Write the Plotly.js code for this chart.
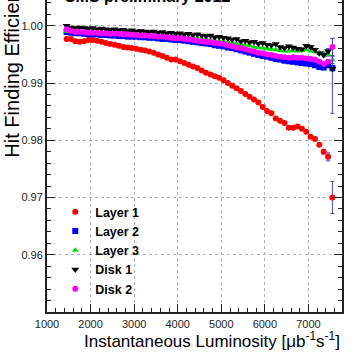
<!DOCTYPE html>
<html>
<head>
<meta charset="utf-8">
<script src="https://cdn.plot.ly/plotly-3.0.1.min.js"></script>
<style>
  html, body { margin: 0; padding: 0; background: #fff; }
  #chartDiv { width: 354px; height: 354px; }
</style>
</head>
<body>
<div id="chartDiv"></div>
<script>
// Luminosity bin centres [ub^-1 s^-1]
const lum = [1450, 1550, 1650, 1750, 1850, 1950, 2050, 2150, 2250, 2350,
  2450, 2550, 2650, 2750, 2850, 2950, 3050, 3150, 3250, 3350,
  3450, 3550, 3650, 3750, 3850, 3950, 4050, 4150, 4250, 4350,
  4450, 4550, 4650, 4750, 4850, 4950, 5050, 5150, 5250, 5350,
  5450, 5550, 5650, 5750, 5850, 5950, 6050, 6150, 6250, 6350,
  6450, 6550, 6650, 6750, 6850, 6950, 7050, 7150, 7250, 7350,
  7450, 7550];

// Hit finding efficiency per layer / disk
const layer1 = [0.9977, 0.9977, 0.9973, 0.9972, 0.9973, 0.9975, 0.9975, 0.9974, 0.9972, 0.9970,
  0.9968, 0.9967, 0.9965, 0.9963, 0.9962, 0.9961, 0.9960, 0.9958, 0.9957, 0.9955,
  0.9953, 0.9950, 0.9947, 0.9944, 0.9941, 0.9941, 0.9938, 0.9935, 0.9932, 0.9929,
  0.9926, 0.9922, 0.9918, 0.9915, 0.9912, 0.9909, 0.9905, 0.9900, 0.9895, 0.9891,
  0.9886, 0.9881, 0.9876, 0.9871, 0.9866, 0.9858, 0.9851, 0.9847, 0.9838, 0.9834,
  0.9830, 0.9822, 0.9822, 0.9824, 0.9820, 0.9815, 0.9806, 0.9802, 0.9792, 0.9780,
  0.9771, 0.9700];
const layer2 = [0.9989, 0.9988, 0.9987, 0.9987, 0.9986, 0.9985, 0.9985, 0.9985, 0.9984, 0.9984,
  0.9983, 0.9983, 0.9982, 0.9982, 0.9981, 0.9981, 0.9981, 0.9980, 0.9980, 0.9979,
  0.9979, 0.9978, 0.9977, 0.9977, 0.9976, 0.9975, 0.9975, 0.9974, 0.9973, 0.9972,
  0.9971, 0.9970, 0.9969, 0.9968, 0.9966, 0.9965, 0.9964, 0.9962, 0.9961, 0.9959,
  0.9957, 0.9955, 0.9953, 0.9951, 0.9949, 0.9947, 0.9946, 0.9944, 0.9942, 0.9941,
  0.9939, 0.9938, 0.9937, 0.9936, 0.9935, 0.9934, 0.9933, 0.9931, 0.9928, 0.9927,
  0.9931, 0.9926];
const layer3 = [0.9990, 0.9990, 0.9990, 0.9990, 0.9990, 0.9989, 0.9989, 0.9989, 0.9989, 0.9988,
  0.9988, 0.9988, 0.9987, 0.9987, 0.9987, 0.9986, 0.9986, 0.9986, 0.9985, 0.9985,
  0.9984, 0.9984, 0.9983, 0.9983, 0.9982, 0.9982, 0.9981, 0.9980, 0.9980, 0.9979,
  0.9978, 0.9977, 0.9976, 0.9975, 0.9974, 0.9973, 0.9972, 0.9971, 0.9970, 0.9969,
  0.9967, 0.9966, 0.9965, 0.9963, 0.9962, 0.9961, 0.9960, 0.9959, 0.9958, 0.9957,
  0.9956, 0.9956, 0.9957, 0.9956, 0.9957, 0.9958, 0.9956, 0.9955, 0.9953, 0.9952,
  0.9950, 0.9940];
const disk1 = [1.0000, 0.9997, 0.9996, 0.9997, 0.9996, 0.9995, 0.9996, 0.9994, 0.9995, 0.9994,
  0.9993, 0.9994, 0.9992, 0.9993, 0.9991, 0.9992, 0.9990, 0.9991, 0.9990, 0.9989,
  0.9990, 0.9988, 0.9989, 0.9987, 0.9988, 0.9986, 0.9987, 0.9985, 0.9986, 0.9984,
  0.9985, 0.9983, 0.9982, 0.9983, 0.9980, 0.9981, 0.9979, 0.9978, 0.9976, 0.9977,
  0.9973, 0.9974, 0.9971, 0.9972, 0.9969, 0.9970, 0.9967, 0.9966, 0.9968, 0.9963,
  0.9961, 0.9964, 0.9962, 0.9960, 0.9959, 0.9965, 0.9963, 0.9958, 0.9952, 0.9949,
  0.9956, 0.9925];
const disk2 = [0.9994, 0.9991, 0.9989, 0.9989, 0.9989, 0.9988, 0.9988, 0.9988, 0.9987, 0.9987,
  0.9986, 0.9986, 0.9986, 0.9985, 0.9985, 0.9984, 0.9984, 0.9983, 0.9983, 0.9982,
  0.9982, 0.9981, 0.9981, 0.9980, 0.9979, 0.9978, 0.9978, 0.9977, 0.9976, 0.9975,
  0.9974, 0.9973, 0.9972, 0.9971, 0.9970, 0.9969, 0.9968, 0.9966, 0.9964, 0.9962,
  0.9961, 0.9959, 0.9957, 0.9955, 0.9953, 0.9952, 0.9950, 0.9949, 0.9947, 0.9946,
  0.9945, 0.9944, 0.9945, 0.9944, 0.9944, 0.9943, 0.9942, 0.9941, 0.9937, 0.9933,
  0.9937, 0.9963];

// Statistical errors (mostly hidden under the markers)
const layer1Err = [0.0001, 0.0001, 0.0001, 0.0001, 0.0001, 0.0001, 0.0001, 0.0001, 0.0001, 0.0001,
  0.0001, 0.0001, 0.0001, 0.0001, 0.0001, 0.0001, 0.0001, 0.0001, 0.0001, 0.0001,
  0.0001, 0.0001, 0.0001, 0.0001, 0.0001, 0.0001, 0.0001, 0.0001, 0.0001, 0.0001,
  0.0001, 0.0001, 0.0001, 0.0001, 0.0001, 0.0001, 0.0001, 0.0001, 0.0001, 0.0001,
  0.0002, 0.0002, 0.0002, 0.0002, 0.0002, 0.0002, 0.0002, 0.0002, 0.0002, 0.0002,
  0.0002, 0.0002, 0.0002, 0.0002, 0.0002, 0.0002, 0.0002, 0.0002, 0.0003, 0.0004,
  0.0007, 0.0028];
const layer2Err = [0.0001, 0.0001, 0.0001, 0.0001, 0.0001, 0.0001, 0.0001, 0.0001, 0.0001, 0.0001,
  0.0001, 0.0001, 0.0001, 0.0001, 0.0001, 0.0001, 0.0001, 0.0001, 0.0001, 0.0001,
  0.0001, 0.0001, 0.0001, 0.0001, 0.0001, 0.0001, 0.0001, 0.0001, 0.0001, 0.0001,
  0.0001, 0.0001, 0.0001, 0.0001, 0.0001, 0.0001, 0.0001, 0.0001, 0.0001, 0.0001,
  0.0001, 0.0001, 0.0001, 0.0001, 0.0001, 0.0001, 0.0001, 0.0001, 0.0001, 0.0001,
  0.0001, 0.0001, 0.0001, 0.0001, 0.0001, 0.0001, 0.0001, 0.0001, 0.0002, 0.0002,
  0.0004, 0.0005];
const layer3Err = [0.0001, 0.0001, 0.0001, 0.0001, 0.0001, 0.0001, 0.0001, 0.0001, 0.0001, 0.0001,
  0.0001, 0.0001, 0.0001, 0.0001, 0.0001, 0.0001, 0.0001, 0.0001, 0.0001, 0.0001,
  0.0001, 0.0001, 0.0001, 0.0001, 0.0001, 0.0001, 0.0001, 0.0001, 0.0001, 0.0001,
  0.0001, 0.0001, 0.0001, 0.0001, 0.0001, 0.0001, 0.0001, 0.0001, 0.0001, 0.0001,
  0.0001, 0.0001, 0.0001, 0.0001, 0.0001, 0.0001, 0.0001, 0.0001, 0.0001, 0.0001,
  0.0001, 0.0001, 0.0001, 0.0001, 0.0001, 0.0001, 0.0001, 0.0002, 0.0002, 0.0002,
  0.0003, 0.0006];
const disk1ErrUp = [0.0001, 0.0001, 0.0001, 0.0001, 0.0001, 0.0001, 0.0001, 0.0001, 0.0001, 0.0001,
  0.0001, 0.0001, 0.0001, 0.0001, 0.0001, 0.0001, 0.0001, 0.0001, 0.0001, 0.0001,
  0.0001, 0.0001, 0.0001, 0.0001, 0.0001, 0.0001, 0.0001, 0.0001, 0.0001, 0.0001,
  0.0001, 0.0001, 0.0001, 0.0001, 0.0001, 0.0001, 0.0001, 0.0001, 0.0001, 0.0001,
  0.0001, 0.0001, 0.0001, 0.0001, 0.0001, 0.0001, 0.0001, 0.0001, 0.0001, 0.0001,
  0.0001, 0.0001, 0.0002, 0.0002, 0.0002, 0.0002, 0.0002, 0.0002, 0.0002, 0.0003,
  0.0004, 0.0053];
const disk1ErrDown = [0.0001, 0.0001, 0.0001, 0.0001, 0.0001, 0.0001, 0.0001, 0.0001, 0.0001, 0.0001,
  0.0001, 0.0001, 0.0001, 0.0001, 0.0001, 0.0001, 0.0001, 0.0001, 0.0001, 0.0001,
  0.0001, 0.0001, 0.0001, 0.0001, 0.0001, 0.0001, 0.0001, 0.0001, 0.0001, 0.0001,
  0.0001, 0.0001, 0.0001, 0.0001, 0.0001, 0.0001, 0.0001, 0.0001, 0.0001, 0.0001,
  0.0001, 0.0001, 0.0001, 0.0001, 0.0001, 0.0001, 0.0001, 0.0001, 0.0001, 0.0001,
  0.0001, 0.0001, 0.0002, 0.0002, 0.0002, 0.0002, 0.0002, 0.0002, 0.0002, 0.0003,
  0.0004, 0.0078];
const disk2Err = [0.0001, 0.0001, 0.0001, 0.0001, 0.0001, 0.0001, 0.0001, 0.0001, 0.0001, 0.0001,
  0.0001, 0.0001, 0.0001, 0.0001, 0.0001, 0.0001, 0.0001, 0.0001, 0.0001, 0.0001,
  0.0001, 0.0001, 0.0001, 0.0001, 0.0001, 0.0001, 0.0001, 0.0001, 0.0001, 0.0001,
  0.0001, 0.0001, 0.0001, 0.0001, 0.0001, 0.0001, 0.0001, 0.0001, 0.0001, 0.0001,
  0.0001, 0.0001, 0.0001, 0.0001, 0.0001, 0.0001, 0.0001, 0.0001, 0.0001, 0.0001,
  0.0001, 0.0001, 0.0001, 0.0001, 0.0001, 0.0001, 0.0002, 0.0002, 0.0002, 0.0002,
  0.0003, 0.0015];

const yTicks = [0.96, 0.97, 0.98, 0.99, 1.00];
const yTickText = ['0.96', '0.97', '0.98', '0.99', '1.00'];

const FONT = 'Liberation Sans, Arial, Helvetica, sans-serif';
const errColor = '#4a4ac4';

function series(name, y, color, symbol, size, err) {
  return {
    x: lum,
    y: y,
    name: name,
    type: 'scatter',
    mode: 'markers',
    marker: { color: color, symbol: symbol, size: size, line: { width: 0 } },
    error_y: Object.assign({ type: 'data', visible: true, color: errColor, thickness: 1, width: 2 }, err)
  };
}

const traces = [
  series('Layer 1', layer1, '#ff0000', 'circle', 6, { array: layer1Err }),
  series('Layer 2', layer2, '#0000ff', 'square', 6, { array: layer2Err }),
  series('Layer 3', layer3, '#00e000', 'triangle-up', 6, { array: layer3Err }),
  series('Disk 1', disk1, '#000000', 'triangle-down', 7, { symmetric: false, array: disk1ErrUp, arrayminus: disk1ErrDown }),
  series('Disk 2', disk2, '#ff00ff', 'circle', 6, { array: disk2Err })
];

const axisCommon = {
  showline: true,
  linecolor: '#222',
  linewidth: 2,
  ticks: 'inside',
  ticklen: 8,
  tickwidth: 1,
  tickcolor: '#222',
  showgrid: true,
  gridcolor: '#b0b0b0',
  griddash: 'dot',
  gridwidth: 1,
  zeroline: false,
  tickfont: { family: FONT, size: 11, color: '#222' }
};

const layout = {
  width: 354,
  height: 354,
  margin: { l: 47, r: 12, t: 0, b: 42 },
  paper_bgcolor: '#fff',
  plot_bgcolor: '#fff',
  showlegend: true,
  legend: {
    x: 0.028, y: 0.368, xanchor: 'left', yanchor: 'top',
    bgcolor: 'rgba(0,0,0,0)',
    font: { family: FONT, size: 12.5, color: '#000', weight: 'bold' },
    itemwidth: 30,
    tracegroupgap: 0
  },
  xaxis: Object.assign({}, axisCommon, {
    range: [1000, 7770],
    dtick: 1000,
    tick0: 1000,
    ticklabelstandoff: 1,
    minor: { dtick: 200, ticks: 'inside', ticklen: 4, tickcolor: '#222', showgrid: false }
  }),
  yaxis: Object.assign({}, axisCommon, {
    range: [0.95, 1.0045],
    tickvals: yTicks,
    ticktext: yTickText,
    mirror: 'ticks',
    minor: { dtick: 0.002, tick0: 0.95, ticks: 'inside', ticklen: 4, tickcolor: '#222', showgrid: false }
  }),
  annotations: [
    {
      text: '<b>CMS preliminary 2012</b>',
      xref: 'paper', yref: 'paper',
      x: 0.05, y: 0.976, xanchor: 'left', yanchor: 'bottom',
      showarrow: false,
      font: { family: FONT, size: 16, color: '#000' }
    },
    {
      text: 'Hit Finding Efficiency',
      xref: 'paper', yref: 'paper',
      x: -0.12, y: 0.487, xanchor: 'center', yanchor: 'bottom',
      textangle: -90,
      showarrow: false,
      font: { family: FONT, size: 20, color: '#000' }
    },
    {
      text: 'Instantaneous Luminosity [μb<sup>-1</sup>s<sup>-1</sup>]',
      xref: 'paper', yref: 'paper',
      x: 1.0, y: -0.09, xanchor: 'right', yanchor: 'middle',
      showarrow: false,
      font: { family: FONT, size: 17, color: '#000' }
    }
  ]
};

Plotly.newPlot('chartDiv', traces, layout, { staticPlot: true, displayModeBar: false });
</script>
</body>
</html>
